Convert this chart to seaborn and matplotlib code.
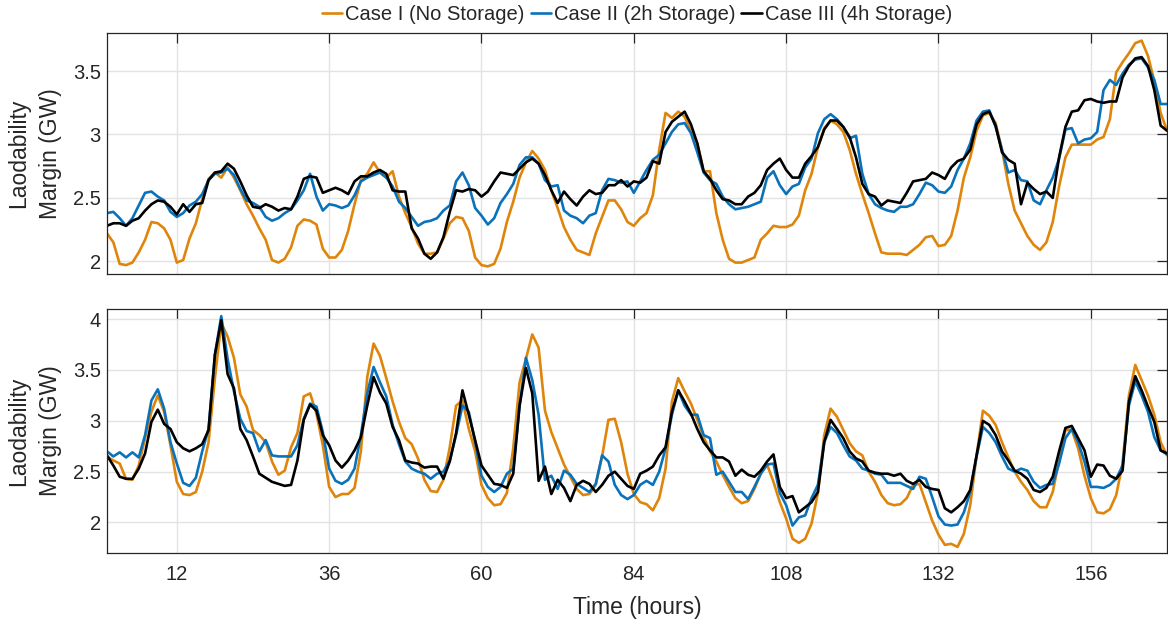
import numpy as np
import pandas as pd
import matplotlib
matplotlib.use("Agg")
import matplotlib.pyplot as plt
import seaborn as sns

# ---------------- data ----------------
hours = list(range(1, 169))

cases = ["Case I (No Storage)", "Case II (2h Storage)", "Case III (4h Storage)"]

# Top panel
top_case1 = [
    2.22, 2.15, 1.98, 1.97, 1.99, 2.07, 2.17, 2.31, 2.30, 2.26,
    2.17, 1.99, 2.01, 2.18, 2.30, 2.49, 2.65, 2.70, 2.66, 2.74,
    2.66, 2.56, 2.45, 2.36, 2.26, 2.17, 2.01, 1.99, 2.02, 2.11,
    2.28, 2.33, 2.32, 2.29, 2.10, 2.03, 2.03, 2.09, 2.24, 2.45,
    2.64, 2.69, 2.78, 2.70, 2.66, 2.71, 2.51, 2.38, 2.27, 2.14,
    2.06, 2.06, 2.07, 2.18, 2.30, 2.35, 2.34, 2.24, 2.03, 1.97,
    1.96, 1.98, 2.10, 2.31, 2.47, 2.66, 2.78, 2.87, 2.81, 2.72,
    2.56, 2.42, 2.27, 2.17, 2.09, 2.07, 2.05, 2.22, 2.35, 2.48,
    2.48, 2.41, 2.31, 2.28, 2.34, 2.38, 2.52, 2.88, 3.17, 3.13,
    3.18, 3.14, 3.03, 2.93, 2.71, 2.71, 2.38, 2.17, 2.02, 1.99,
    1.99, 2.01, 2.03, 2.17, 2.22, 2.28, 2.27, 2.27, 2.29, 2.36,
    2.56, 2.69, 2.90, 3.05, 3.11, 3.08, 3.02, 2.88, 2.69, 2.53,
    2.38, 2.22, 2.07, 2.06, 2.06, 2.06, 2.05, 2.09, 2.13, 2.19,
    2.20, 2.12, 2.13, 2.20, 2.40, 2.66, 2.82, 3.03, 3.15, 3.17,
    3.09, 2.88, 2.61, 2.40, 2.30, 2.20, 2.13, 2.09, 2.15, 2.31,
    2.59, 2.82, 2.92, 2.92, 2.92, 2.92, 2.96, 2.98, 3.12, 3.49,
    3.57, 3.64, 3.72, 3.74, 3.62, 3.42, 3.17, 3.03,
]
top_case2 = [
    2.38, 2.39, 2.34, 2.28, 2.34, 2.44, 2.54, 2.55, 2.51, 2.48,
    2.39, 2.35, 2.38, 2.44, 2.47, 2.53, 2.64, 2.69, 2.70, 2.73,
    2.68, 2.57, 2.48, 2.46, 2.43, 2.35, 2.32, 2.34, 2.38, 2.41,
    2.48, 2.56, 2.69, 2.51, 2.40, 2.45, 2.44, 2.42, 2.44, 2.52,
    2.63, 2.66, 2.68, 2.70, 2.66, 2.59, 2.47, 2.42, 2.35, 2.28,
    2.31, 2.32, 2.34, 2.40, 2.44, 2.63, 2.70, 2.60, 2.42, 2.36,
    2.29, 2.34, 2.46, 2.53, 2.61, 2.76, 2.82, 2.82, 2.77, 2.64,
    2.59, 2.60, 2.40, 2.36, 2.34, 2.30, 2.36, 2.38, 2.56, 2.65,
    2.64, 2.62, 2.63, 2.54, 2.63, 2.72, 2.80, 2.84, 2.93, 3.02,
    3.08, 3.09, 3.01, 2.86, 2.70, 2.64, 2.61, 2.51, 2.45, 2.41,
    2.42, 2.43, 2.45, 2.47, 2.66, 2.71, 2.60, 2.53, 2.59, 2.61,
    2.74, 2.81, 3.01, 3.12, 3.16, 3.12, 3.06, 2.97, 2.99, 2.69,
    2.53, 2.45, 2.42, 2.40, 2.39, 2.43, 2.43, 2.45, 2.53, 2.62,
    2.60, 2.55, 2.54, 2.59, 2.72, 2.81, 2.93, 3.11, 3.18, 3.19,
    3.06, 2.88, 2.70, 2.72, 2.64, 2.63, 2.48, 2.45, 2.56, 2.66,
    2.81, 3.04, 3.05, 2.93, 2.96, 2.97, 3.02, 3.35, 3.43, 3.39,
    3.48, 3.55, 3.59, 3.60, 3.53, 3.43, 3.24, 3.24,
]
top_case3 = [
    2.28, 2.30, 2.30, 2.28, 2.32, 2.34, 2.40, 2.45, 2.48, 2.47,
    2.43, 2.37, 2.45, 2.39, 2.45, 2.46, 2.64, 2.70, 2.71, 2.77,
    2.73, 2.63, 2.52, 2.43, 2.42, 2.45, 2.43, 2.40, 2.42, 2.41,
    2.51, 2.65, 2.67, 2.66, 2.54, 2.56, 2.58, 2.56, 2.53, 2.63,
    2.67, 2.67, 2.70, 2.72, 2.69, 2.56, 2.55, 2.55, 2.26, 2.18,
    2.06, 2.02, 2.07, 2.19, 2.39, 2.56, 2.55, 2.57, 2.56, 2.51,
    2.55, 2.63, 2.70, 2.69, 2.68, 2.73, 2.78, 2.81, 2.77, 2.68,
    2.56, 2.46, 2.55, 2.49, 2.44, 2.51, 2.56, 2.53, 2.54, 2.60,
    2.60, 2.64, 2.59, 2.63, 2.62, 2.66, 2.79, 2.77, 3.02, 3.10,
    3.14, 3.18, 3.08, 2.93, 2.71, 2.65, 2.56, 2.49, 2.48, 2.45,
    2.45, 2.51, 2.54, 2.60, 2.72, 2.77, 2.81, 2.72, 2.66, 2.66,
    2.77, 2.83, 2.90, 3.04, 3.11, 3.11, 3.06, 2.98, 2.82, 2.61,
    2.53, 2.51, 2.44, 2.48, 2.47, 2.46, 2.54, 2.63, 2.64, 2.65,
    2.70, 2.68, 2.65, 2.74, 2.79, 2.81, 2.88, 3.08, 3.16, 3.18,
    3.07, 2.86, 2.80, 2.77, 2.45, 2.62, 2.57, 2.53, 2.55, 2.50,
    2.82, 3.06, 3.18, 3.19, 3.27, 3.28, 3.26, 3.25, 3.26, 3.26,
    3.45, 3.54, 3.60, 3.61, 3.54, 3.35, 3.07, 3.03,
]

# Bottom panel
bot_case1 = [
    2.65, 2.61, 2.58, 2.43, 2.42, 2.56, 2.83, 3.09, 3.25, 3.09,
    2.76, 2.40, 2.28, 2.27, 2.30, 2.50, 2.79, 3.42, 3.96, 3.83,
    3.62, 3.26, 3.14, 2.91, 2.86, 2.79, 2.60, 2.47, 2.51, 2.74,
    2.88, 3.24, 3.27, 3.07, 2.76, 2.35, 2.25, 2.28, 2.28, 2.34,
    2.70, 3.43, 3.76, 3.64, 3.42, 3.19, 2.99, 2.83, 2.77, 2.63,
    2.42, 2.31, 2.30, 2.42, 2.74, 3.15, 3.20, 2.92, 2.70, 2.37,
    2.24, 2.17, 2.18, 2.29, 2.73, 3.38, 3.61, 3.85, 3.72, 3.10,
    2.89, 2.73, 2.57, 2.45, 2.33, 2.27, 2.28, 2.37, 2.65, 3.01,
    3.02, 2.79, 2.48, 2.28, 2.20, 2.18, 2.12, 2.24, 2.53, 3.19,
    3.42, 3.29, 3.17, 3.01, 2.84, 2.70, 2.60, 2.47, 2.35, 2.24,
    2.19, 2.21, 2.33, 2.48, 2.57, 2.40, 2.20, 2.04, 1.84, 1.80,
    1.84, 1.99, 2.29, 2.86, 3.12, 3.04, 2.91, 2.78, 2.70, 2.66,
    2.50, 2.40, 2.27, 2.19, 2.17, 2.18, 2.24, 2.37, 2.38, 2.20,
    2.02, 1.88, 1.78, 1.79, 1.76, 1.89, 2.17, 2.66, 3.10, 3.05,
    2.96, 2.79, 2.64, 2.50, 2.40, 2.32, 2.21, 2.15, 2.15, 2.30,
    2.61, 2.91, 2.91, 2.73, 2.46, 2.24, 2.10, 2.09, 2.13, 2.27,
    2.58, 3.25, 3.55, 3.40, 3.25, 3.06, 2.79, 2.66,
]
bot_case2 = [
    2.70, 2.65, 2.69, 2.64, 2.69, 2.64, 2.86, 3.20, 3.31, 3.12,
    2.79, 2.58, 2.39, 2.36, 2.44, 2.70, 2.92, 3.65, 4.03, 3.61,
    3.29, 3.02, 2.90, 2.88, 2.70, 2.81, 2.66, 2.65, 2.65, 2.65,
    2.76, 3.02, 3.17, 3.14, 2.89, 2.53, 2.41, 2.38, 2.42, 2.53,
    2.86, 3.27, 3.53, 3.38, 3.24, 2.96, 2.77, 2.60, 2.53, 2.50,
    2.48, 2.43, 2.48, 2.50, 2.61, 2.86, 3.15, 3.09, 2.79, 2.46,
    2.35, 2.30, 2.35, 2.48, 2.53, 3.15, 3.62, 3.40, 3.06, 2.42,
    2.46, 2.33, 2.51, 2.47, 2.38, 2.34, 2.30, 2.38, 2.66, 2.60,
    2.37, 2.27, 2.23, 2.27, 2.37, 2.41, 2.37, 2.50, 2.73, 3.06,
    3.30, 3.15, 3.06, 3.06, 2.86, 2.83, 2.47, 2.50, 2.40, 2.30,
    2.30, 2.23, 2.35, 2.48, 2.57, 2.58, 2.29, 2.17, 1.97, 2.05,
    2.07, 2.24, 2.37, 2.79, 2.94, 2.88, 2.76, 2.65, 2.61, 2.53,
    2.51, 2.48, 2.47, 2.39, 2.39, 2.39, 2.36, 2.33, 2.45, 2.43,
    2.25, 2.06, 1.98, 1.97, 1.98, 2.10, 2.30, 2.65, 2.94, 2.88,
    2.79, 2.65, 2.53, 2.50, 2.53, 2.51, 2.40, 2.34, 2.37, 2.38,
    2.58, 2.83, 2.92, 2.79, 2.60, 2.35, 2.35, 2.34, 2.37, 2.43,
    2.56, 3.15, 3.39, 3.25, 3.09, 2.84, 2.71, 2.67,
]
bot_case3 = [
    2.66, 2.56, 2.45, 2.43, 2.43, 2.53, 2.68, 2.99, 3.11, 2.97,
    2.92, 2.79, 2.73, 2.70, 2.73, 2.77, 2.91, 3.65, 3.99, 3.46,
    3.32, 2.92, 2.81, 2.65, 2.48, 2.44, 2.40, 2.38, 2.36, 2.37,
    2.61, 3.01, 3.16, 3.10, 2.86, 2.76, 2.61, 2.54, 2.61, 2.71,
    2.84, 3.15, 3.43, 3.28, 3.17, 2.94, 2.81, 2.61, 2.59, 2.58,
    2.54, 2.55, 2.55, 2.43, 2.60, 2.88, 3.30, 3.06, 2.81, 2.56,
    2.47, 2.38, 2.37, 2.34, 2.48, 3.15, 3.52, 3.27, 2.41, 2.55,
    2.28, 2.42, 2.34, 2.21, 2.37, 2.41, 2.38, 2.30, 2.37, 2.46,
    2.50, 2.43, 2.36, 2.33, 2.48, 2.51, 2.55, 2.66, 2.74, 3.09,
    3.30, 3.19, 3.07, 2.92, 2.79, 2.71, 2.64, 2.64, 2.60, 2.46,
    2.52, 2.47, 2.45, 2.51, 2.60, 2.67, 2.35, 2.24, 2.26, 2.10,
    2.15, 2.20, 2.30, 2.79, 3.01, 2.92, 2.83, 2.70, 2.63, 2.60,
    2.51, 2.49, 2.48, 2.48, 2.46, 2.48, 2.41, 2.38, 2.42, 2.35,
    2.33, 2.32, 2.14, 2.10, 2.15, 2.21, 2.32, 2.66, 3.00, 2.96,
    2.86, 2.70, 2.61, 2.51, 2.48, 2.43, 2.32, 2.30, 2.34, 2.45,
    2.70, 2.93, 2.95, 2.83, 2.71, 2.45, 2.57, 2.56, 2.46, 2.43,
    2.51, 3.19, 3.44, 3.30, 3.14, 2.99, 2.71, 2.68,
]

x_ticks = [12, 36, 60, 84, 108, 132, 156]
top_yticks = [2, 2.5, 3, 3.5]
bot_yticks = [2, 2.5, 3, 3.5, 4]
top_ylabels = ["2", "2.5", "3", "3.5"]
bot_ylabels = ["2", "2.5", "3", "3.5", "4"]

colors = ["#DF850B", "#0A72BA", "#000000"]

# ---------------- build long-form tables ----------------
def long_df(series_list):
    frames = []
    for name, vals in zip(cases, series_list):
        frames.append(pd.DataFrame({"hour": hours, "value": vals, "case": name}))
    return pd.concat(frames, ignore_index=True)

df_top = long_df([top_case1, top_case2, top_case3])
df_bot = long_df([bot_case1, bot_case2, bot_case3])

# ---------------- style ----------------
sns.set_style("white")
plt.rcParams["font.family"] = ["Liberation Sans", "DejaVu Sans"]
text_color = "#262626"
plt.rcParams["text.color"] = text_color
plt.rcParams["axes.labelcolor"] = text_color
plt.rcParams["xtick.color"] = text_color
plt.rcParams["ytick.color"] = text_color

W, H = 1168, 623
fig = plt.figure(figsize=(W / 100, H / 100), dpi=100)
ax_left = 107 / W
ax_width = (1167 - 107) / W
ax_top = fig.add_axes([ax_left, 1 - 274 / H, ax_width, (274 - 33) / H])
ax_bot = fig.add_axes([ax_left, 1 - 553 / H, ax_width, (553 - 309) / H])

palette = dict(zip(cases, colors))

for ax, df, yticks, ylabs, ylim in [
    (ax_top, df_top, top_yticks, top_ylabels, (1.9, 3.8)),
    (ax_bot, df_bot, bot_yticks, bot_ylabels, (1.7, 4.1)),
]:
    sns.lineplot(data=df, x="hour", y="value", hue="case", hue_order=cases,
                 palette=palette, linewidth=1.9, ax=ax, legend=False,
                 estimator=None)
    ax.set_xlim(1, 168)
    ax.set_ylim(*ylim)
    ax.set_xticks(x_ticks)
    ax.set_yticks(yticks)
    ax.set_yticklabels(ylabs)
    ax.grid(True, color="#e2e2e2", linewidth=1.0)
    ax.set_axisbelow(True)
    for s in ax.spines.values():
        s.set_visible(True)
        s.set_color(text_color)
        s.set_linewidth(0.9)
    ax.tick_params(axis="both", which="major", direction="in", length=7.5,
                   width=0.9, top=True, right=True, labelsize=14.5,
                   colors=text_color)
    ax.tick_params(axis="x", pad=9)
    ax.tick_params(axis="y", pad=4.5)
    ax.set_ylabel("Laodability\nMargin (GW)", fontsize=16.5, linespacing=1.45,
                  labelpad=8)
    ax.set_xlabel("")

ax_top.tick_params(axis="x", labelbottom=False)
ax_bot.set_xlabel("Time (hours)", fontsize=16.5, labelpad=8)

handles = ax_top.get_lines()[:3]
fig.legend(handles, cases, loc="center", bbox_to_anchor=(637 / W, 1 - 15 / H),
           ncol=3, frameon=False, fontsize=14.5, handlelength=1.0,
           handletextpad=0.15, columnspacing=0.3, borderaxespad=0)

fig.savefig("out.png", dpi=100)
